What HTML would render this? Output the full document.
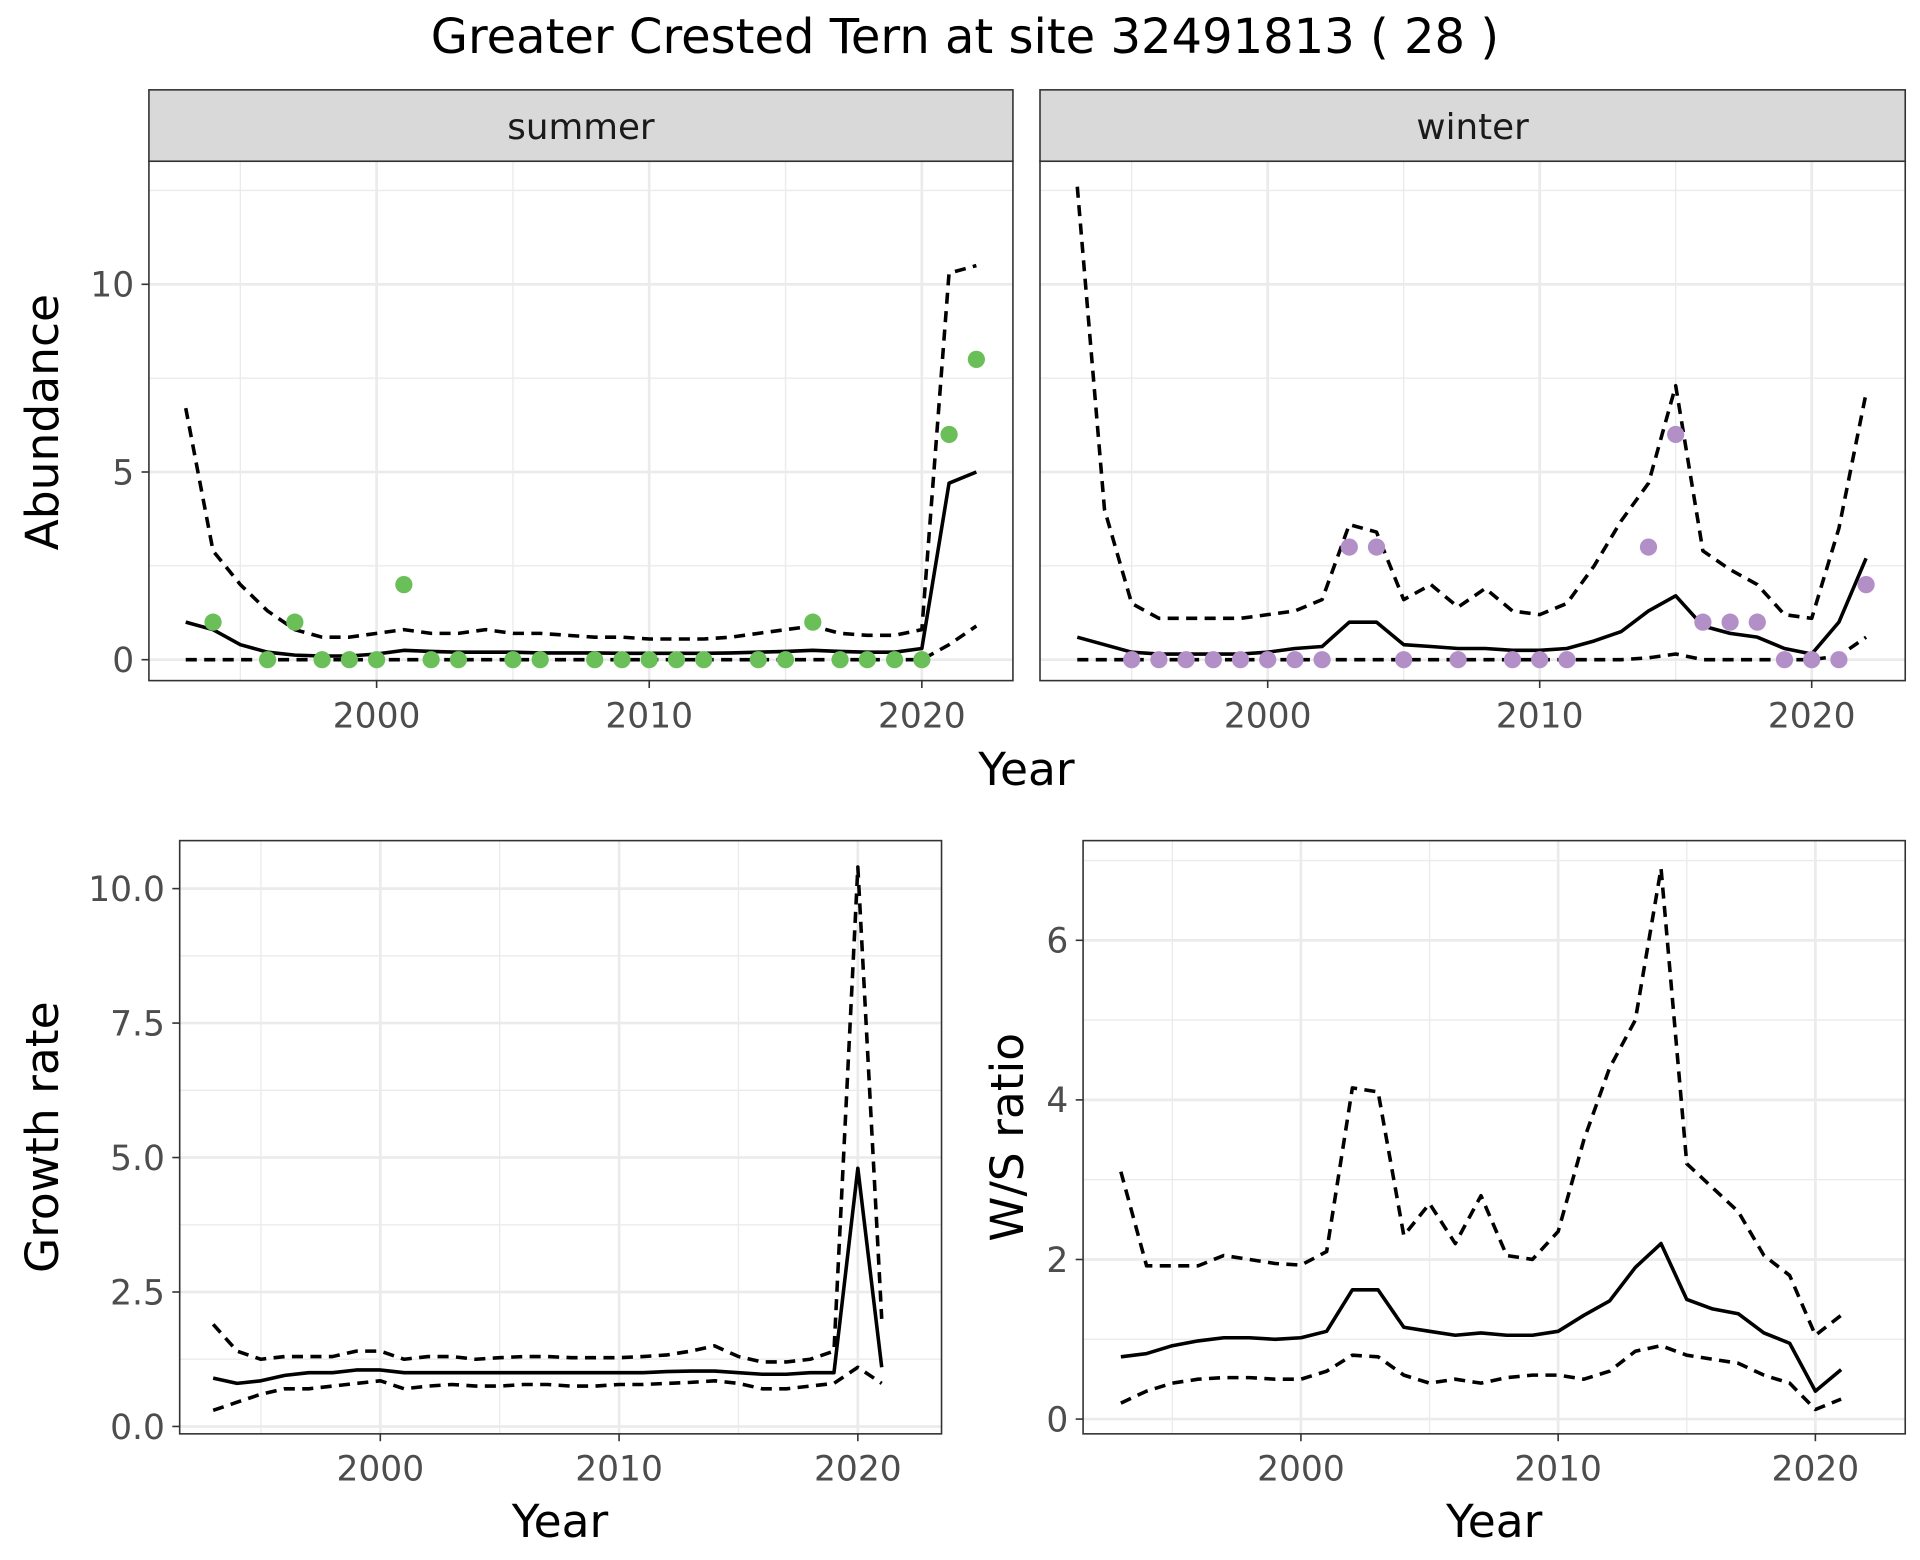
<!DOCTYPE html>
<html><head><meta charset="utf-8"><style>html,body{margin:0;padding:0;background:#fff}svg{display:block}</style></head>
<body>
<svg id="c" width="1920" height="1560" viewBox="0 0 1560 1267.5" xmlns="http://www.w3.org/2000/svg" font-family="'DejaVu Sans','Liberation Sans',sans-serif">
<text x="784" y="43" font-size="39" text-anchor="middle" fill="#000">Greater Crested Tern at site 32491813 ( 28 )</text>
</svg>
<script>
const years = [1993,1994,1995,1996,1997,1998,1999,2000,2001,2002,2003,2004,2005,2006,2007,2008,2009,2010,2011,2012,2013,2014,2015,2016,2017,2018,2019,2020,2021,2022];
const summerMean = [1.0,0.8,0.4,0.2,0.12,0.1,0.1,0.15,0.25,0.22,0.2,0.2,0.2,0.18,0.18,0.18,0.17,0.17,0.17,0.17,0.18,0.2,0.22,0.25,0.22,0.2,0.2,0.3,4.7,5.0];
const summerUpper = [6.7,2.9,2.0,1.3,0.8,0.6,0.6,0.7,0.8,0.7,0.7,0.8,0.7,0.7,0.65,0.6,0.6,0.55,0.55,0.55,0.6,0.7,0.8,0.9,0.7,0.65,0.65,0.8,10.3,10.5];
const summerLower = [0,0,0,0,0,0,0,0,0,0,0,0,0,0,0,0,0,0,0,0,0,0,0,0,0,0,0,0,0.4,0.9];
const summerPtYears = [1994,1996,1997,1998,1999,2000,2001,2002,2003,2005,2006,2008,2009,2010,2011,2012,2014,2015,2016,2017,2018,2019,2020,2021,2022];
const summerPtVals = [1,0,1,0,0,0,2,0,0,0,0,0,0,0,0,0,0,0,1,0,0,0,0,6,8];
const winterMean = [0.6,0.4,0.2,0.15,0.15,0.15,0.15,0.2,0.3,0.35,1.0,1.0,0.4,0.35,0.3,0.3,0.25,0.25,0.3,0.5,0.75,1.3,1.7,0.9,0.7,0.6,0.3,0.15,1.0,2.7];
const winterUpper = [12.6,4.0,1.5,1.1,1.1,1.1,1.1,1.2,1.3,1.6,3.6,3.4,1.6,2.0,1.4,1.9,1.3,1.2,1.5,2.5,3.7,4.7,7.3,2.9,2.4,2.0,1.2,1.1,3.5,7.1];
const winterLower = [0,0,0,0,0,0,0,0,0,0,0,0,0,0,0,0,0,0,0,0,0,0.05,0.15,0,0,0,0,0,0.1,0.6];
const winterPtYears = [1995,1996,1997,1998,1999,2000,2001,2002,2003,2004,2005,2007,2009,2010,2011,2014,2015,2016,2017,2018,2019,2020,2021,2022];
const winterPtVals = [0,0,0,0,0,0,0,0,3,3,0,0,0,0,0,3,6,1,1,1,0,0,0,2];
const years2 = years.slice(0,29);
const growthMean = [0.9,0.8,0.85,0.95,1.0,1.0,1.05,1.05,1.0,1.0,1.0,1.0,1.0,1.0,1.0,1.0,1.0,1.0,1.0,1.02,1.03,1.03,1.0,0.97,0.97,1.0,1.0,4.8,1.1];
const growthUpper = [1.9,1.4,1.25,1.3,1.3,1.3,1.4,1.4,1.25,1.3,1.3,1.25,1.28,1.3,1.3,1.28,1.28,1.28,1.3,1.33,1.4,1.5,1.3,1.2,1.2,1.25,1.4,10.4,2.0];
const growthLower = [0.3,0.45,0.6,0.7,0.7,0.75,0.8,0.85,0.7,0.75,0.78,0.75,0.75,0.78,0.78,0.75,0.75,0.78,0.78,0.8,0.82,0.85,0.8,0.7,0.7,0.75,0.8,1.1,0.8];
const ratioMean = [0.78,0.82,0.92,0.98,1.02,1.02,1.0,1.02,1.1,1.62,1.62,1.15,1.1,1.05,1.08,1.05,1.05,1.1,1.3,1.48,1.9,2.2,1.5,1.38,1.32,1.08,0.95,0.35,0.62];
const ratioUpper = [3.1,1.92,1.92,1.92,2.05,2.0,1.95,1.93,2.1,4.15,4.1,2.3,2.7,2.2,2.8,2.05,2.0,2.35,3.5,4.4,5.0,6.9,3.2,2.9,2.6,2.05,1.8,1.05,1.3];
const ratioLower = [0.2,0.35,0.45,0.5,0.52,0.52,0.5,0.5,0.6,0.8,0.78,0.55,0.45,0.5,0.45,0.52,0.55,0.55,0.5,0.6,0.85,0.92,0.8,0.75,0.7,0.55,0.45,0.12,0.25];
const xTicks = [2000,2010,2020];
const xMinor = [1995,2005,2015];
const topYTicks = [0,5,10];
const topYMinor = [2.5,7.5,12.5];
const growthYTicks = [0,2.5,5,7.5,10];
const growthYLabels = ["0.0","2.5","5.0","7.5","10.0"];
const growthYMinor = [1.25,3.75,6.25,8.75];
const ratioYTicks = [0,2,4,6];
const ratioYMinor = [1,3,5,7];

const svg = document.getElementById('c');
const NS = 'http://www.w3.org/2000/svg';
function mk(tag, attrs, parent){const e=document.createElementNS(NS,tag);for(const k in attrs)e.setAttribute(k,attrs[k]);(parent||svg).appendChild(e);return e;}
function lin(d0,d1,r0,r1){return v=>r0+(v-d0)*(r1-r0)/(d1-d0);}

function panel(p){
  const g=mk('g',{});
  
  
  const x=lin(2000,2020,p.x2000,p.x2020), y=lin(p.yt0,p.yt1,p.y0,p.y1);
  p.yMinor.forEach(v=>{const yy=y(v); if(yy>p.top&&yy<p.bottom) mk('line',{x1:p.left,x2:p.right,y1:yy,y2:yy,stroke:'#ebebeb','stroke-width':1.1},g);});
  xMinor.forEach(v=>mk('line',{x1:x(v),x2:x(v),y1:p.top,y2:p.bottom,stroke:'#ebebeb','stroke-width':1.1},g));
  p.yTicks.forEach(v=>mk('line',{x1:p.left,x2:p.right,y1:y(v),y2:y(v),stroke:'#ebebeb','stroke-width':2.2},g));
  xTicks.forEach(v=>mk('line',{x1:x(v),x2:x(v),y1:p.top,y2:p.bottom,stroke:'#ebebeb','stroke-width':2.2},g));
  const dash='9,6';
  [[p.upper,dash],[p.lower,dash],[p.mean,null]].forEach(([arr,da],i)=>{
    const d=arr.map((v,j)=>(j?'L':'M')+x(p.yrs[j]).toFixed(1)+','+y(v).toFixed(1)).join('');
    const pa=mk('path',{d:d,fill:'none',stroke:'#000','stroke-width':2.9,'stroke-linejoin':'round'},g);
    if(da) pa.setAttribute('stroke-dasharray',da);
    
    
  });
  if(p.ptY){p.ptY.forEach((yr,j)=>{
    const c=mk('circle',{cx:x(yr),cy:y(p.ptV[j]),r:7,fill:p.color},g);
    
    
  });}
  mk('rect',{x:p.left,y:p.top,width:p.right-p.left,height:p.bottom-p.top,fill:'none',stroke:'#333','stroke-width':1.3},g);
  if(p.strip){
    mk('rect',{x:p.left,y:p.top-58,width:p.right-p.left,height:58,fill:'#d9d9d9',stroke:'#333','stroke-width':1.3},g);
    const t=mk('text',{x:(p.left+p.right)/2,y:p.top-18,'font-size':29,'text-anchor':'middle',fill:'#1a1a1a'},g);
    t.textContent=p.strip;
    
    
  }
  xTicks.forEach(v=>{
    mk('line',{x1:x(v),x2:x(v),y1:p.bottom,y2:p.bottom+6,stroke:'#333','stroke-width':1.3},g);
    const t=mk('text',{x:x(v),y:p.bottom+38,'font-size':28,'text-anchor':'middle',fill:'#4d4d4d'},g);
    t.textContent=v;
    
    
  });
  if(p.yLabels){p.yTicks.forEach((v,j)=>{
    mk('line',{x1:p.left-6,x2:p.left,y1:y(v),y2:y(v),stroke:'#333','stroke-width':1.3},g);
    const t=mk('text',{x:p.left-12,y:y(v)+10,'font-size':28,'text-anchor':'end',fill:'#4d4d4d'},g);
    t.textContent=p.yLabels[j];
    
    
  });}
}
function label(txt,x,y,rot,name){
  const t=mk('text',{x:x,y:y,'font-size':37,'text-anchor':'middle',fill:'#000'});
  if(rot) t.setAttribute('transform','rotate(-90 '+x+' '+y+')');
  t.textContent=txt;
  
  
}
panel({name:'summer-panel',left:121,right:823,top:131,bottom:553,x2000:306,x2020:749,yt0:0,yt1:10,y0:536,y1:231,yTicks:topYTicks,yMinor:topYMinor,yLabels:['0','5','10'],yrs:years,mean:summerMean,upper:summerUpper,lower:summerLower,ptY:summerPtYears,ptV:summerPtVals,color:'#6abf59',strip:'summer'});
panel({name:'winter-panel',left:845,right:1548,top:131,bottom:553,x2000:1030,x2020:1472,yt0:0,yt1:10,y0:536,y1:231,yTicks:topYTicks,yMinor:topYMinor,yLabels:null,yrs:years,mean:winterMean,upper:winterUpper,lower:winterLower,ptY:winterPtYears,ptV:winterPtVals,color:'#b38fc8',strip:'winter'});
panel({name:'growth-panel',left:146,right:765,top:683,bottom:1165,x2000:309,x2020:697,yt0:0,yt1:10,y0:1159,y1:722,yTicks:growthYTicks,yMinor:growthYMinor,yLabels:growthYLabels,yrs:years2,mean:growthMean,upper:growthUpper,lower:growthLower});
panel({name:'ratio-panel',left:880,right:1548,top:683,bottom:1165,x2000:1057,x2020:1475,yt0:0,yt1:6,y0:1153,y1:764,yTicks:ratioYTicks,yMinor:ratioYMinor,yLabels:['0','2','4','6'],yrs:years2,mean:ratioMean,upper:ratioUpper,lower:ratioLower});
label('Abundance',47,343,true,'y-axis-title-abundance');
label('Year',834,638,false,'x-axis-title-top');
label('Growth rate',47,924,true,'y-axis-title-growth');
label('Year',455,1249,false,'x-axis-title-growth');
label('W/S ratio',831,924,true,'y-axis-title-ratio');
label('Year',1214,1249,false,'x-axis-title-ratio');
</script>
</body></html>
